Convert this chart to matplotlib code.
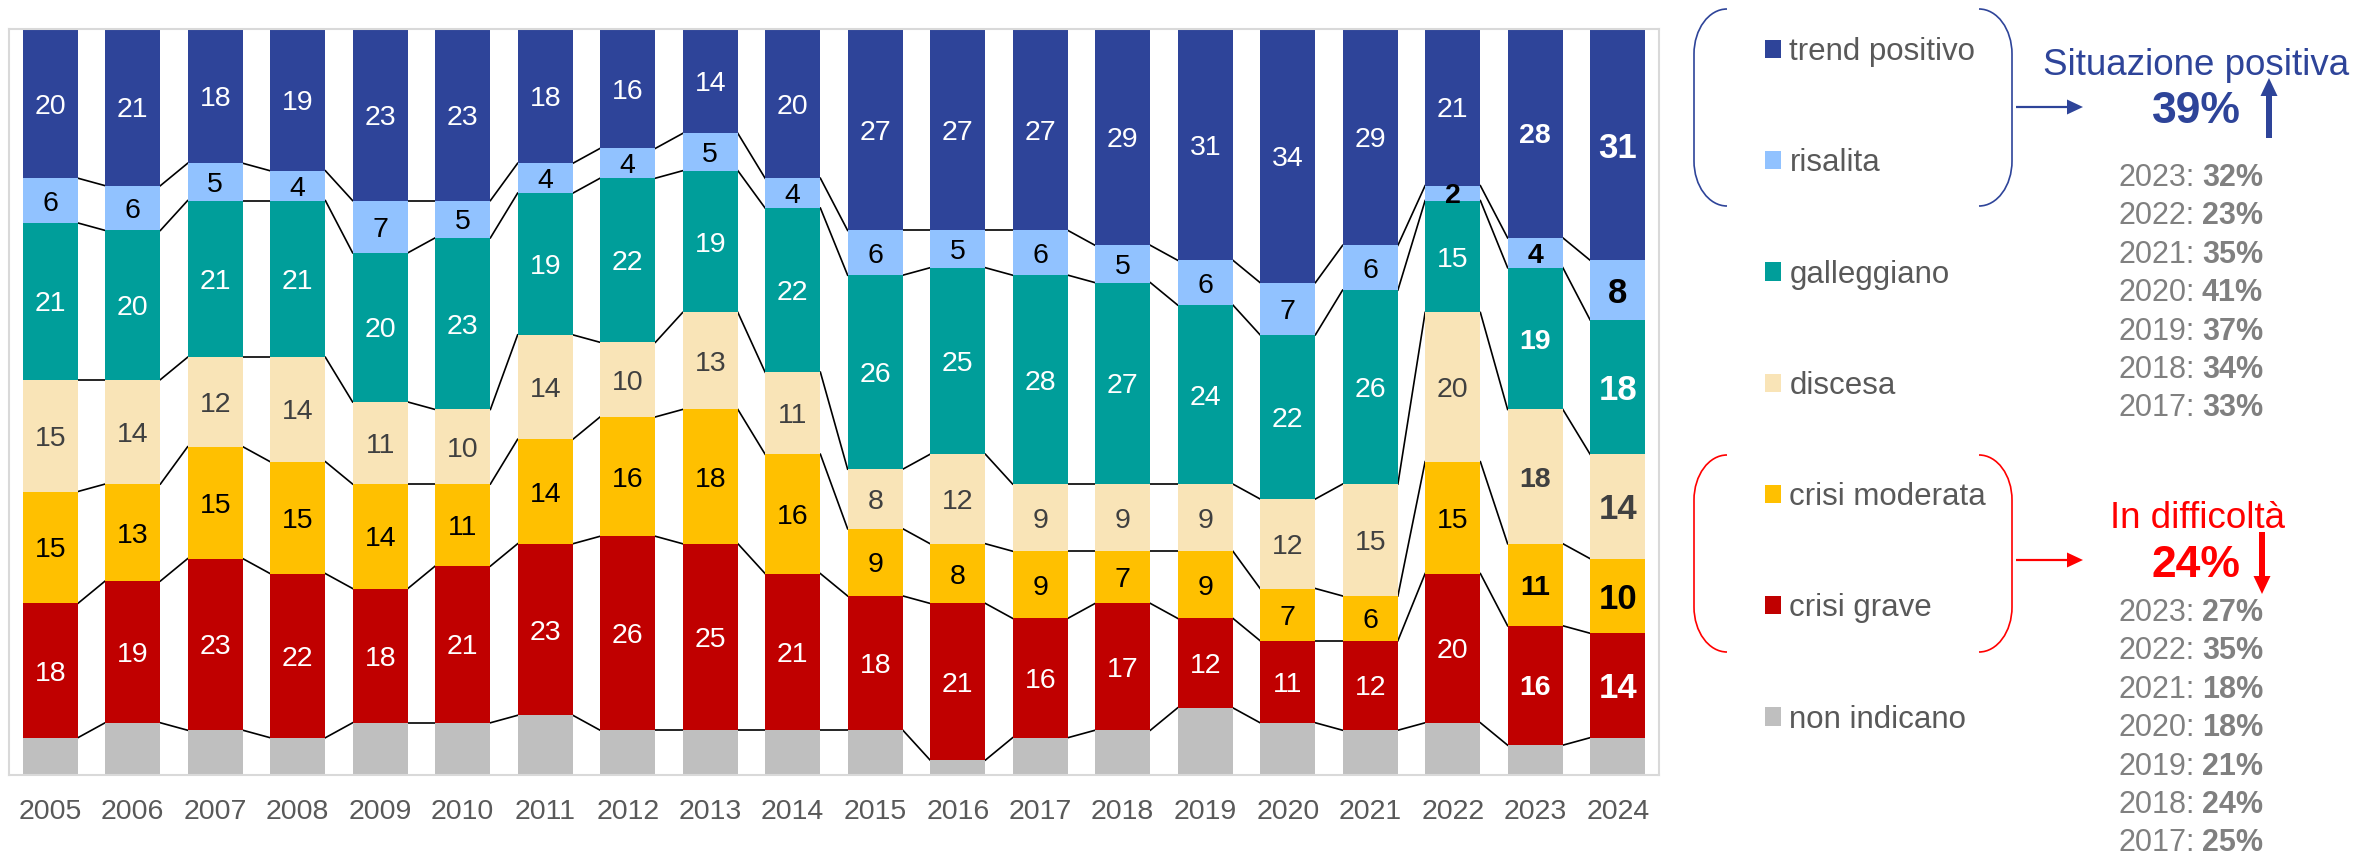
import numpy as np
import matplotlib
matplotlib.use('Agg')
import matplotlib.pyplot as plt
from matplotlib.path import Path
from matplotlib.patches import PathPatch

plt.rcParams['font.family'] = ['Liberation Sans', 'DejaVu Sans']

years = [str(y) for y in range(2005, 2025)]

# quote annuali (%), dal basso verso l'alto
non_indicano   = [5, 7, 6, 5, 7, 7, 8, 6, 6, 6, 6, 2, 5, 6, 9, 7, 6, 7, 4, 5]
crisi_grave    = [18, 19, 23, 22, 18, 21, 23, 26, 25, 21, 18, 21, 16, 17, 12, 11, 12, 20, 16, 14]
crisi_moderata = [15, 13, 15, 15, 14, 11, 14, 16, 18, 16, 9, 8, 9, 7, 9, 7, 6, 15, 11, 10]
discesa        = [15, 14, 12, 14, 11, 10, 14, 10, 13, 11, 8, 12, 9, 9, 9, 12, 15, 20, 18, 14]
galleggiano    = [21, 20, 21, 21, 20, 23, 19, 22, 19, 22, 26, 25, 28, 27, 24, 22, 26, 15, 19, 18]
risalita       = [6, 6, 5, 4, 7, 5, 4, 4, 5, 4, 6, 5, 6, 5, 6, 7, 6, 2, 4, 8]
trend_positivo = [20, 21, 18, 19, 23, 23, 18, 16, 14, 20, 27, 27, 27, 29, 31, 34, 29, 21, 28, 31]

categories = ['non indicano', 'crisi grave', 'crisi moderata', 'discesa',
              'galleggiano', 'risalita', 'trend positivo']
colors = ['#BFBFBF', '#C00000', '#FFC000', '#F9E4B7', '#009E9A', '#91C2FF', '#2E4499']
label_colors = [None, 'white', 'black', '#404040', 'white', 'black', 'white']

storico_positivo = [('2023', 32), ('2022', 23), ('2021', 35), ('2020', 41),
                    ('2019', 37), ('2018', 34), ('2017', 33)]
storico_difficolta = [('2023', 27), ('2022', 35), ('2021', 18), ('2020', 18),
                      ('2019', 21), ('2018', 24), ('2017', 25)]

navy = '#2E4499'
red = '#FF0000'
W, H = 2374, 859

fig = plt.figure(figsize=(W / 100, H / 100), dpi=100)
ax = fig.add_axes([9 / W, 1 - 775 / H, 1650 / W, 746 / H])

series = [non_indicano, crisi_grave, crisi_moderata, discesa, galleggiano, risalita, trend_positivo]
x = np.arange(len(years))
width = 0.67
bottom = np.zeros(len(years))
handles = []
levels = []
for k, vals in enumerate(series):
    vals = np.array(vals, dtype=float)
    bars = ax.bar(x, vals, width, bottom=bottom, color=colors[k], label=categories[k], zorder=2)
    handles.append(bars)
    if label_colors[k]:
        for i, v in enumerate(vals):
            bold = i >= 18 or (k == 5 and i == 17)
            ax.text(x[i], bottom[i] + v / 2, f'{v:.0f}', ha='center', va='center_baseline',
                    color=label_colors[k], fontsize=25 if i == 19 else 20.5,
                    fontweight='bold' if bold else 'normal', zorder=3)
    bottom = bottom + vals
    levels.append(bottom.copy())

# linee di raccordo tra le barre
for lev in levels:
    for i in range(len(x) - 1):
        ax.plot([x[i] + width / 2, x[i + 1] - width / 2], [lev[i], lev[i + 1]],
                color='black', lw=1.2, zorder=1)

ax.set_xlim(-0.5, 19.5)
ax.set_ylim(0, 100)
ax.set_yticks([])
ax.set_xticks(x, years)
ax.tick_params(axis='x', length=0, pad=17, labelsize=20.5, labelcolor='#595959')
for sp in ax.spines.values():
    sp.set_color('#D9D9D9')
    sp.set_linewidth(1.5)

fig.legend(handles[::-1], categories[::-1], loc='upper left',
           bbox_to_anchor=(1765 / W, 1 - 37 / H), frameon=False, fontsize=22.5,
           labelcolor='#595959', handlelength=0.52, handleheight=0.52,
           handletextpad=0.26, labelspacing=2.6, borderpad=0, borderaxespad=0)

# pannello laterale in coordinate pixel
ov = fig.add_axes([0, 0, 1, 1])
ov.set_xlim(0, W)
ov.set_ylim(H, 0)
ov.axis('off')


def bracket(y0, y1, color):
    k = 0.5523
    rx, ry = 33, 45
    codes = [Path.MOVETO, Path.CURVE4, Path.CURVE4, Path.CURVE4,
             Path.LINETO, Path.CURVE4, Path.CURVE4, Path.CURVE4]
    for xe, s in ((1694, 1), (2012, -1)):
        verts = [(xe + s * rx, y0), (xe + s * rx * (1 - k), y0), (xe, y0 + ry * (1 - k)), (xe, y0 + ry),
                 (xe, y1 - ry), (xe, y1 - ry * (1 - k)), (xe + s * rx * (1 - k), y1), (xe + s * rx, y1)]
        ov.add_patch(PathPatch(Path(verts, codes), fill=False, edgecolor=color, lw=1.2))


def arrow(x0, y0, x1, y1, color, shaft, head_w, head_l):
    ov.arrow(x0, y0, x1 - x0, y1 - y0, width=shaft, head_width=head_w, head_length=head_l,
             length_includes_head=True, color=color, lw=0)


def storico(rows, y0, step=38.4):
    for j, (yr, pct) in enumerate(rows):
        y = y0 + j * step
        ov.text(2195, y, f'{yr}:', ha='right', va='baseline', color='#808080', fontsize=22)
        ov.text(2202, y, f'{pct}%', ha='left', va='baseline', color='#808080',
                fontsize=22, fontweight='bold')


positivo = trend_positivo[-1] + risalita[-1]
difficolta = crisi_moderata[-1] + crisi_grave[-1]

bracket(9, 206, navy)
arrow(2016, 107, 2083, 107, navy, 2.2, 15, 16)
ov.text(2196, 75, 'Situazione positiva', ha='center', va='baseline', color=navy, fontsize=26.5)
ov.text(2196, 123, f'{positivo}%', ha='center', va='baseline', color=navy, fontsize=32, fontweight='bold')
arrow(2269, 138, 2269, 78, navy, 6, 17, 18)
storico(storico_positivo, 186)

bracket(455, 652, red)
arrow(2016, 560, 2083, 560, red, 2.2, 15, 16)
ov.text(2197, 528, 'In difficoltà', ha='center', va='baseline', color=red, fontsize=26.5)
ov.text(2196, 577, f'{difficolta}%', ha='center', va='baseline', color=red, fontsize=32, fontweight='bold')
arrow(2262, 532, 2262, 594, red, 6, 17, 18)
storico(storico_difficolta, 621)

fig.savefig('out.png', dpi=100)
